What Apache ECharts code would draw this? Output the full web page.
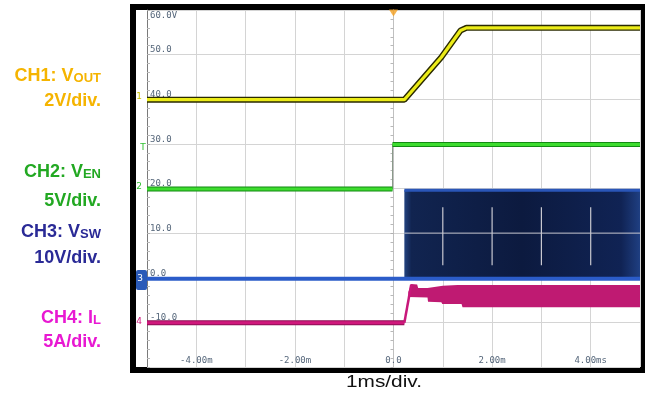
<!DOCTYPE html>
<html><head><meta charset="utf-8">
<script src="https://cdn.jsdelivr.net/npm/echarts@6/dist/echarts.min.js"></script>
<style>html,body{margin:0;padding:0;background:#fff;}#c{width:647px;height:397px;}</style>
</head><body><div id="c"></div>
<script>
// ---- tick labels ----
const xTickLabels = {'-4':'-4.00m','-2':'-2.00m','0':'0.0','2':'2.00m','4':'4.00ms'};
const yTickLabels = {'60':'60.0V','50':'50.0','40':'40.0','30':'30.0','20':'20.0','10':'10.0','0':'0.0','-10':'-10.0'};
// ---- traces (time in ms, screen value: 10 units / div) ----
const ch1Vout = [[-5,39.9],[0.22,39.9],[0.97,49.4],[1.36,55.4],[1.48,56.0],[5,56.0]];
const ch2VenLow = [[-5,19.9],[-0.02,19.9]];
const ch2VenHigh = [[-0.02,29.85],[5,29.85]];
const ch2VenEdge = [[-0.02,19.9],[-0.02,29.85]];
const ch3VswBase = [[-5,-0.25],[5,-0.25]];
const ch3SwitchTop = [[0.22,19.6],[5,19.6]];
const ch3SwitchBottom = [[0.22,-0.25],[5,-0.25]];
const ch4IlBase = [[-5,-10.1],[0.22,-10.1]];
const ch4IlRise = [[0.22,-10.1],[0.36,-1.5]];
const ch4BandTop = [[0.30,-3.2],[0.36,-1.4],[0.48,-1.5],[0.5,-2.3],[0.69,-2.3],[1.0,-1.8],[1.3,-1.6],[5,-1.6]];
const ch4BandBottom = [[0.30,-4.3],[0.69,-4.4],[0.70,-5.4],[0.97,-5.5],[0.99,-5.9],[1.38,-5.9],[1.40,-6.6],[5,-6.6]];
const blockGridH = [[0.22,10],[5,10]];
const blockGridTimes = [1,2,3,4];
const blockGridRange = [2.8,15.8];
const triggerPoint = [[0,60]];

const chart = echarts.init(document.getElementById('c'), null, {renderer:'canvas'});

function polygonSeries(top, bottom, fill, z){
  return {type:'custom', coordinateSystem:'cartesian2d', clip:true, z:z, silent:true, data:[0],
    renderItem:function(params, api){
      const pts = top.map(p=>api.coord(p)).concat(bottom.slice().reverse().map(p=>api.coord(p)));
      return {type:'polygon', shape:{points:pts}, style:{fill:fill}};
    }};
}
function lineS(data, color, width, z){
  return {type:'line', data:data, showSymbol:false, symbol:'none', silent:true, z:z,
    lineStyle:{color:color, width:width, cap:'butt'}, animation:false};
}

const blockFill = {type:'linear', x:0, y:0, x2:1, y2:0, colorStops:[
  {offset:0,color:'#22427f'},{offset:0.03,color:'#112450'},{offset:0.5,color:'#0c1a3f'},
  {offset:0.92,color:'#102354'},{offset:1,color:'#1f3f82'}]};

const series = [
  polygonSeries(ch3SwitchTop, ch3SwitchBottom, blockFill, 2),
  lineS(ch3SwitchTop, '#2a56b8', 3, 3),
  lineS(blockGridH, '#c8c8d0', 1, 3),
];
blockGridTimes.forEach(t=>{
  series.push(lineS([[t,blockGridRange[0]],[t,blockGridRange[1]]], '#c8c8d0', 1.2, 3));
});
series.push(
  lineS(ch3VswBase, '#2b5cc9', 4, 4),
  polygonSeries(ch4BandTop, ch4BandBottom, '#bf1a72', 4),
  lineS(ch4IlBase, '#8e0e55', 5, 4),
  lineS(ch4IlBase, '#d0187c', 3, 5),
  lineS(ch4IlRise, '#c8177a', 2.5, 5),
  lineS(ch2VenEdge, '#8a9a8a', 1, 5),
  lineS(ch2VenLow, '#138a13', 5, 5),
  lineS(ch2VenLow, '#3ddc2e', 3, 6),
  lineS(ch2VenHigh, '#138a13', 5, 5),
  lineS(ch2VenHigh, '#3ddc2e', 3, 6),
  lineS(ch1Vout, '#2a2a00', 6, 6),
  lineS(ch1Vout, '#ecec18', 3.2, 7),
  {type:'scatter', data:triggerPoint, symbol:'triangle', symbolRotate:180, symbolSize:[9,7],
   symbolOffset:[0,3], clip:false, silent:true, z:8, itemStyle:{color:'#f4a020'}}
);

function chLabel(main, sub, color, y){
  return {type:'text', x:101, y:y, z:10, style:{
    text:'{a|'+main+'}'+(sub?'{s|'+sub+'}':''), textAlign:'right', textVerticalAlign:'middle', fill:color,
    rich:{a:{fontSize:18, fontWeight:'bold', fontFamily:'Liberation Sans', fill:color, verticalAlign:'bottom'},
          s:{fontSize:13, fontWeight:'bold', fontFamily:'Liberation Sans', fill:color, verticalAlign:'bottom'}}}};
}
function divLabel(txt, color, y){
  return {type:'text', x:101, y:y, z:10, style:{text:txt, textAlign:'right', textVerticalAlign:'middle',
    fill:color, font:'bold 18px "Liberation Sans"'}};
}
function marker(txt, color, x, y){
  return {type:'text', x:x, y:y, z:10, style:{text:txt, textAlign:'center', textVerticalAlign:'middle',
    fill:color, font:'9px "DejaVu Sans"'}};
}

const option = {
  animation:false,
  backgroundColor:'#ffffff',
  grid:{left:147, right:7, top:10, bottom:30, containLabel:false},
  xAxis:{type:'value', min:-5, max:5, interval:1,
    axisLine:{show:false, onZero:false}, axisTick:{show:false},
    splitLine:{show:true, lineStyle:{color:'#d4d4d4', width:1}},
    axisLabel:{inside:true, margin:2, color:'#55667a', fontFamily:'DejaVu Sans Mono', fontSize:9,
      formatter:v=>xTickLabels[String(v)]||''}},
  yAxis:[
    {type:'value', min:-20, max:60, interval:10,
     axisLine:{show:true, onZero:false, lineStyle:{color:'#7a7a7a'}}, axisTick:{show:false},
     splitLine:{show:true, lineStyle:{color:'#d4d4d4', width:1}},
     axisLabel:{inside:true, margin:3, color:'#55667a', fontFamily:'DejaVu Sans Mono', fontSize:9,
       formatter:v=>{const s=yTickLabels[String(v)]; if(!s) return ''; return v===60?'{t|'+s+'}':'{n|'+s+'}';},
       rich:{t:{padding:[11,0,0,0], fontFamily:'DejaVu Sans Mono', fontSize:9, color:'#55667a'},
             n:{padding:[0,0,9,0], fontFamily:'DejaVu Sans Mono', fontSize:9, color:'#55667a'}}}},
    {type:'value', min:-20, max:60, interval:10, position:'left',
     axisLine:{show:true, onZero:true, lineStyle:{color:'#c0c0c0'}},
     axisTick:{show:true, inside:false, length:3, lineStyle:{color:'#b0b0b0'}},
     minorTick:{show:true, splitNumber:5, length:3, lineStyle:{color:'#b8b8b8'}},
     axisLabel:{show:false}, splitLine:{show:false}},
    {type:'value', min:-20, max:60, interval:10, position:'left',
     axisLine:{show:false, onZero:true},
     axisTick:{show:true, inside:true, length:3, lineStyle:{color:'#b0b0b0'}},
     minorTick:{show:true, splitNumber:5, length:3, lineStyle:{color:'#b8b8b8'}},
     axisLabel:{show:false}, splitLine:{show:false}}
  ],
  graphic:[
    {type:'rect', shape:{x:130, y:4, width:515, height:369}, style:{fill:'#000'}, z:-10, silent:true},
    {type:'rect', shape:{x:136, y:10, width:504, height:357}, style:{fill:'#fff'}, z:-9, silent:true},
    chLabel('CH1: V','OUT','#f5b400',76),
    divLabel('2V/div.','#f5b400',101),
    chLabel('CH2: V','EN','#22a822',172),
    divLabel('5V/div.','#22a822',201),
    chLabel('CH3: V','SW','#2a2a96',232),
    divLabel('10V/div.','#2a2a96',258),
    chLabel('CH4: I','L','#e818d2',318),
    divLabel('5A/div.','#e818d2',342),
    {type:'text', x:384, y:383, z:10, scaleX:1.3, originX:0, originY:0,
     style:{text:'1ms/div.', textAlign:'center', textVerticalAlign:'middle', fill:'#111', font:'16px "Liberation Sans"'}},
    marker('1','#c8c000',139,97),
    marker('T','#30c030',143,148),
    marker('2','#30c030',139,187),
    {type:'rect', shape:{x:136, y:270, width:11, height:20, r:2}, style:{fill:'#2a5ab8'}, z:10},
    marker('3','#ffffff',140,279),
    marker('4','#d0187c',139,322)
  ],
  series:series
};
option.series.forEach(s=>{ if(s.yAxisIndex===undefined) s.yAxisIndex=0; });
chart.setOption(option);
</script></body></html>
